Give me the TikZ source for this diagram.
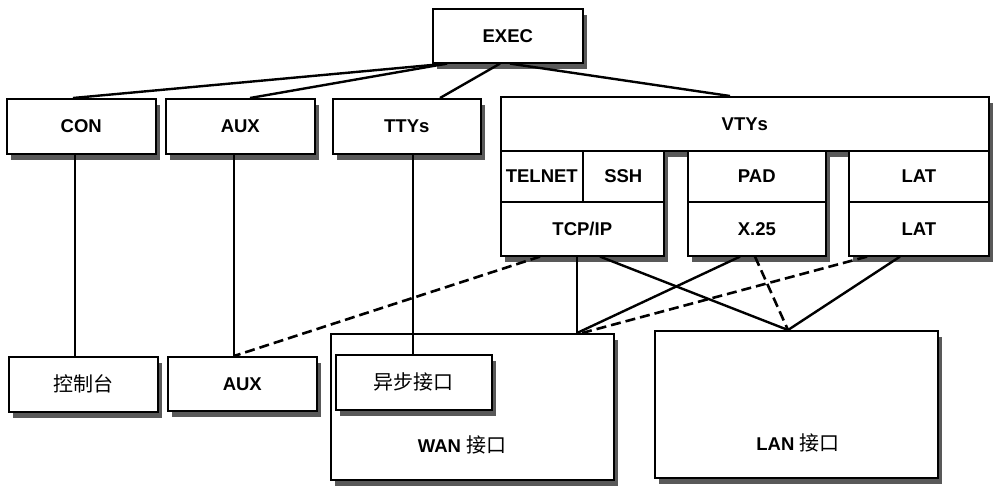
\documentclass[tikz,border=0pt]{standalone}
\usepackage{fontspec}
\setmainfont{Liberation Sans}
\newfontfamily\cjk{Noto Sans CJK SC}
\usetikzlibrary{shadows,calc}
\tikzset{
  box/.style={draw=black, line width=1.6pt, fill=white, anchor=north west, inner sep=0pt,
    font=\fontsize{18.5}{21}\selectfont\bfseries,
    drop shadow={shadow xshift=4pt,shadow yshift=-6pt,fill=black!65,opacity=1}},
  cjkt/.style={font=\fontsize{20}{22}\selectfont\cjk},
  lbl/.style={font=\fontsize{18.5}{21}\selectfont\bfseries, inner sep=0pt},
  conn/.style={line width=2.4pt},
  dconn/.style={line width=2.6pt, dash pattern=on 10pt off 5pt},
}
\begin{document}
\begin{tikzpicture}[x=1pt,y=-1pt]
\useasboundingbox (0,0) rectangle (993,485);
% top
\node[box, minimum width=150pt, minimum height=54pt] (exec) at (432,8) {EXEC};
\node[box, minimum width=149pt, minimum height=55pt] (con) at (6,98) {CON};
\node[box, minimum width=149pt, minimum height=55pt] (aux) at (165,98) {AUX};
\node[box, minimum width=148pt, minimum height=55pt] (tty) at (332,98) {TTYs};
\node[box, minimum width=488pt, minimum height=54pt] (vty) at (500,96) {VTYs};
\node[box, minimum width=82pt, minimum height=51pt] (telnet) at (500,150) {TELNET};
\node[box, minimum width=81pt, minimum height=51pt] (ssh) at (582,150) {SSH};
\node[box, minimum width=163pt, minimum height=54pt] (tcp) at (500,201) {TCP/IP};
\node[box, minimum width=138pt, minimum height=51pt] (pad) at (687,150) {PAD};
\node[box, minimum width=138pt, minimum height=54pt] (x25) at (687,201) {X.25};
\node[box, minimum width=140pt, minimum height=51pt] (lat1) at (848,150) {LAT};
\node[box, minimum width=140pt, minimum height=54pt] (lat2) at (848,201) {LAT};
% bottom
\node[box, cjkt, minimum width=149pt, minimum height=55pt] (cons) at (8,356) {控制台};
\node[box, minimum width=149pt, minimum height=54pt] (aux2) at (167,356) {AUX};
\node[box, minimum width=283pt, minimum height=146pt] (wan) at (330,333) {};
\node[box, cjkt, minimum width=156pt, minimum height=55pt] (async) at (335,354) {异步接口};
\node[box, minimum width=283pt, minimum height=147pt] (lan) at (654,330) {};
\node[lbl] (wanl) at (462,445) {WAN {\cjk\mdseries\fontsize{20}{22}\selectfont 接口}};
\node[lbl] (lanl) at (798,443) {LAN {\cjk\mdseries\fontsize{20}{22}\selectfont 接口}};
% connectors from EXEC
\draw[conn] ([xshift=15pt]exec.south west) -- ([xshift=67pt]con.north west);
\draw[conn] ([xshift=15pt]exec.south west) -- ([xshift=85pt]aux.north west);
\draw[conn] ([xshift=68pt]exec.south west) -- ([xshift=108pt]tty.north west);
\draw[conn] ([xshift=78pt]exec.south west) -- ([xshift=230pt]vty.north west);
% verticals
\draw[conn] ([xshift=69pt]con.south west) -- ([xshift=67pt]cons.north west);
\draw[conn] ([xshift=69pt]aux.south west) -- ([xshift=67pt]aux2.north west);
\draw[conn] ([xshift=81pt]tty.south west) -- ([xshift=78pt]async.north west);
% VTY protocols to interfaces
\draw[conn] ([xshift=77pt]tcp.south west) -- ([xshift=247pt]wan.north west);
\draw[conn] ([xshift=100pt]tcp.south west) -- ([xshift=134pt]lan.north west);
\draw[conn] ([xshift=53pt]x25.south west) -- ([xshift=247pt]wan.north west);
\draw[dconn] ([xshift=68pt]x25.south west) -- ([xshift=134pt]lan.north west);
\draw[dconn] ([xshift=19pt]lat2.south west) -- ([xshift=252pt]wan.north west);
\draw[conn] ([xshift=52pt]lat2.south west) -- ([xshift=134pt]lan.north west);
\draw[dconn] ([xshift=40pt]tcp.south west) -- ([xshift=67pt]aux2.north west);
\end{tikzpicture}
\end{document}
